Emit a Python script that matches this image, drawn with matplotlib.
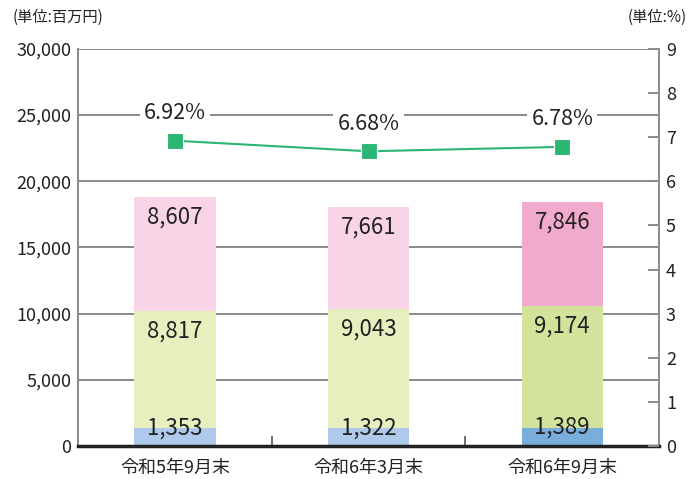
import matplotlib
matplotlib.use("Agg")
import matplotlib.pyplot as plt

plt.rcParams['font.family'] = ['Noto Sans CJK JP', 'DejaVu Sans']

categories = ['令和5年9月末', '令和6年3月末', '令和6年9月末']
bottom_vals = [1353, 1322, 1389]
middle_vals = [8817, 9043, 9174]
top_vals = [8607, 7661, 7846]
ratio = [6.92, 6.68, 6.78]

bottom_colors = ['#aec9ea', '#aec9ea', '#79addc']
middle_colors = ['#e6efbd', '#e6efbd', '#d4e39c']
top_colors = ['#f9d4e6', '#f9d4e6', '#f2aacc']

fig = plt.figure(figsize=(6.97, 4.79), dpi=100)
ax = fig.add_axes([0.112, 0.069, 0.8335, 0.8288])
x = list(range(len(categories)))
w = 0.42

ax.set_ylim(0, 30000)
ax.set_xlim(-0.5, 2.5)
ax.set_yticks(range(0, 30001, 5000))
ax.set_yticklabels([f'{v:,}' for v in range(0, 30001, 5000)], fontsize=13, color='#222222')
ax.grid(axis='y', color='#8a8a8a', linewidth=1.4)
ax.set_axisbelow(True)
ax.tick_params(axis='y', length=0, pad=5)

mid_base = bottom_vals
top_base = [b + m for b, m in zip(bottom_vals, middle_vals)]
ax.bar(x, bottom_vals, w, color=bottom_colors, zorder=2)
ax.bar(x, middle_vals, w, bottom=mid_base, color=middle_colors, zorder=2)
ax.bar(x, top_vals, w, bottom=top_base, color=top_colors, zorder=2)

for i in x:
    ax.annotate(f'{top_vals[i]:,}', (i, top_base[i] + top_vals[i]), xytext=(0, -14.5),
                textcoords='offset points', ha='center', va='center', fontsize=16, color='#222222', zorder=4)
    ax.annotate(f'{middle_vals[i]:,}', (i, top_base[i]), xytext=(0, -14.5),
                textcoords='offset points', ha='center', va='center', fontsize=16, color='#222222', zorder=4)
    ax.annotate(f'{bottom_vals[i]:,}', (i, bottom_vals[i]), xytext=(0, 0),
                textcoords='offset points', ha='center', va='center', fontsize=16, color='#222222', zorder=4)

ax.set_xticks([0.5, 1.5])
ax.set_xticklabels([])
ax.tick_params(axis='x', direction='in', length=7, width=1.2, color='#555555')
for i, c in enumerate(categories):
    ax.text(i, -0.055, c, transform=ax.get_xaxis_transform(), ha='center', va='center',
            fontsize=13, color='#222222')

for s in ['left', 'right', 'top']:
    ax.spines[s].set_color('#8a8a8a')
    ax.spines[s].set_linewidth(1.4)
ax.spines['top'].set_visible(False)
ax.spines['bottom'].set_color('#222222')
ax.spines['bottom'].set_linewidth(2.5)
ax.spines['bottom'].set_zorder(5)

ax2 = ax.twinx()
ax2.set_ylim(0, 9)
ax2.set_yticks(range(0, 10))
ax2.tick_params(axis='y', direction='in', length=8, width=1.4, color='#8a8a8a',
                labelsize=13, labelcolor='#222222', pad=5)
for s in ['left', 'right', 'top', 'bottom']:
    ax2.spines[s].set_visible(False)
ax2.plot(x, ratio, color='#2bb673', linewidth=1.5, marker='s', markersize=12,
         markerfacecolor='#2bb673', markeredgecolor='white', markeredgewidth=0.8, zorder=5)
for i in x:
    ax2.annotate(f'{ratio[i]:.2f}%', (i, ratio[i]), xytext=(0, 20), textcoords='offset points',
                 ha='center', va='center', fontsize=15.5, color='#222222',
                 bbox=dict(boxstyle='square,pad=0.2', facecolor='white', edgecolor='none'))

fig.text(0.018, 0.964, '(単位:百万円)', ha='left', va='center', fontsize=11, color='#222222')
fig.text(0.985, 0.964, '(単位:%)', ha='right', va='center', fontsize=11, color='#222222')

fig.savefig('out.png', dpi=100)
